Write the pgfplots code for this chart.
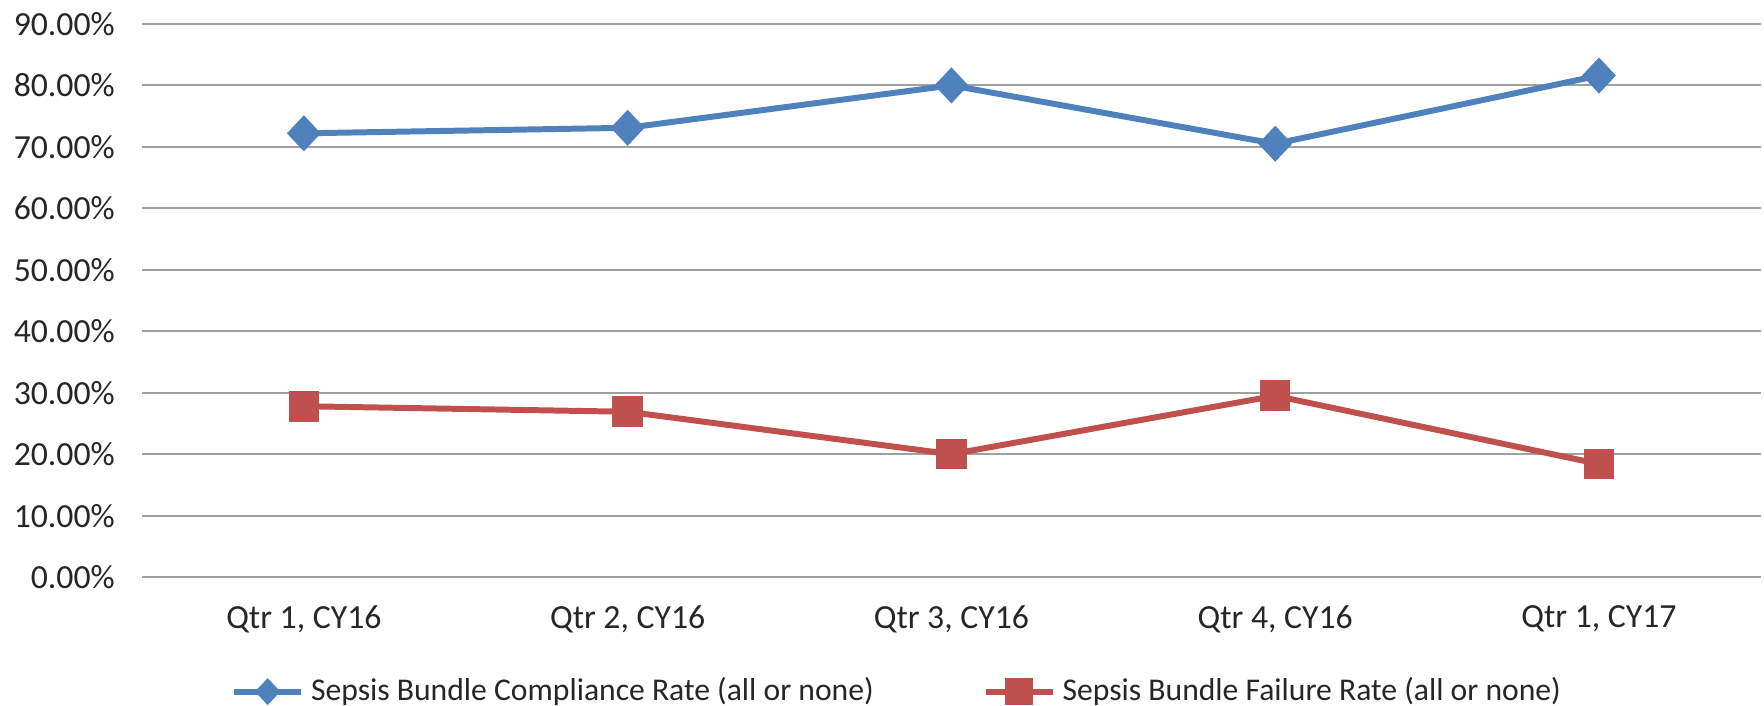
\documentclass[border=0pt]{standalone}
\usepackage{pgfplots}
\pgfplotsset{compat=1.18}
\usepackage{fontspec}
\setmainfont{Carlito}
\definecolor{sblue}{HTML}{4F81BD}
\definecolor{sred}{HTML}{C0504D}
\definecolor{gridgray}{HTML}{A0A0A0}
\begin{document}
\begin{tikzpicture}
\path[use as bounding box] (0pt,0pt) rectangle (501.9pt,200.6pt);
\begin{axis}[
  at={(40.4pt,36.4pt)}, anchor=south west,
  scale only axis,
  width=460.6pt, height=157.4pt,
  xmin=-0.5, xmax=4.5, ymin=0, ymax=90,
  xtick={0,1,2,3,4},
  xticklabels={{Qtr 1, CY16},{Qtr 2, CY16},{Qtr 3, CY16},{Qtr 4, CY16},{Qtr 1, CY17}},
  ytick={0,10,20,30,40,50,60,70,80,90},
  yticklabels={0.00\%,10.00\%,20.00\%,30.00\%,40.00\%,50.00\%,60.00\%,70.00\%,80.00\%,90.00\%},
  axis line style={draw=none},
  tick style={draw=none},
  xmajorgrids=false,
  ymajorgrids=true,
  major grid style={draw=gridgray, line width=0.55pt},
  ticklabel style={font=\fontsize{9.6}{11}\selectfont, text=black!85},
  yticklabel style={xshift=-4.2pt},
  xticklabel style={yshift=-4.6pt},
  legend style={draw=none, at={(0.468,-0.207)}, anchor=center, legend columns=2,
    font=\fontsize{9}{11}\selectfont, text=black!85,
    /tikz/every even column/.append style={column sep=29pt}},
  legend image code/.code={\draw[#1, mark repeat=2, mark phase=2] plot coordinates {(0pt,0pt)(9.5pt,0pt)(19pt,0pt)};},
]
\addplot[sblue, line width=1.7pt, mark=diamond*, mark size=3.9pt, mark options={xscale=1.25, solid},
  legend image post style={mark size=2.6pt}]
  coordinates {(0,72.2)(1,73.1)(2,80.0)(3,70.5)(4,81.6)};
\addlegendentry{Sepsis Bundle Compliance Rate (all or none)}
\addplot[sred, line width=1.7pt, mark=square*, mark size=3.5pt, mark options={solid},
  legend image post style={mark size=3.1pt}]
  coordinates {(0,27.8)(1,26.9)(2,20.0)(3,29.5)(4,18.4)};
\addlegendentry{Sepsis Bundle Failure Rate (all or none)}
\end{axis}
\end{tikzpicture}
\end{document}
